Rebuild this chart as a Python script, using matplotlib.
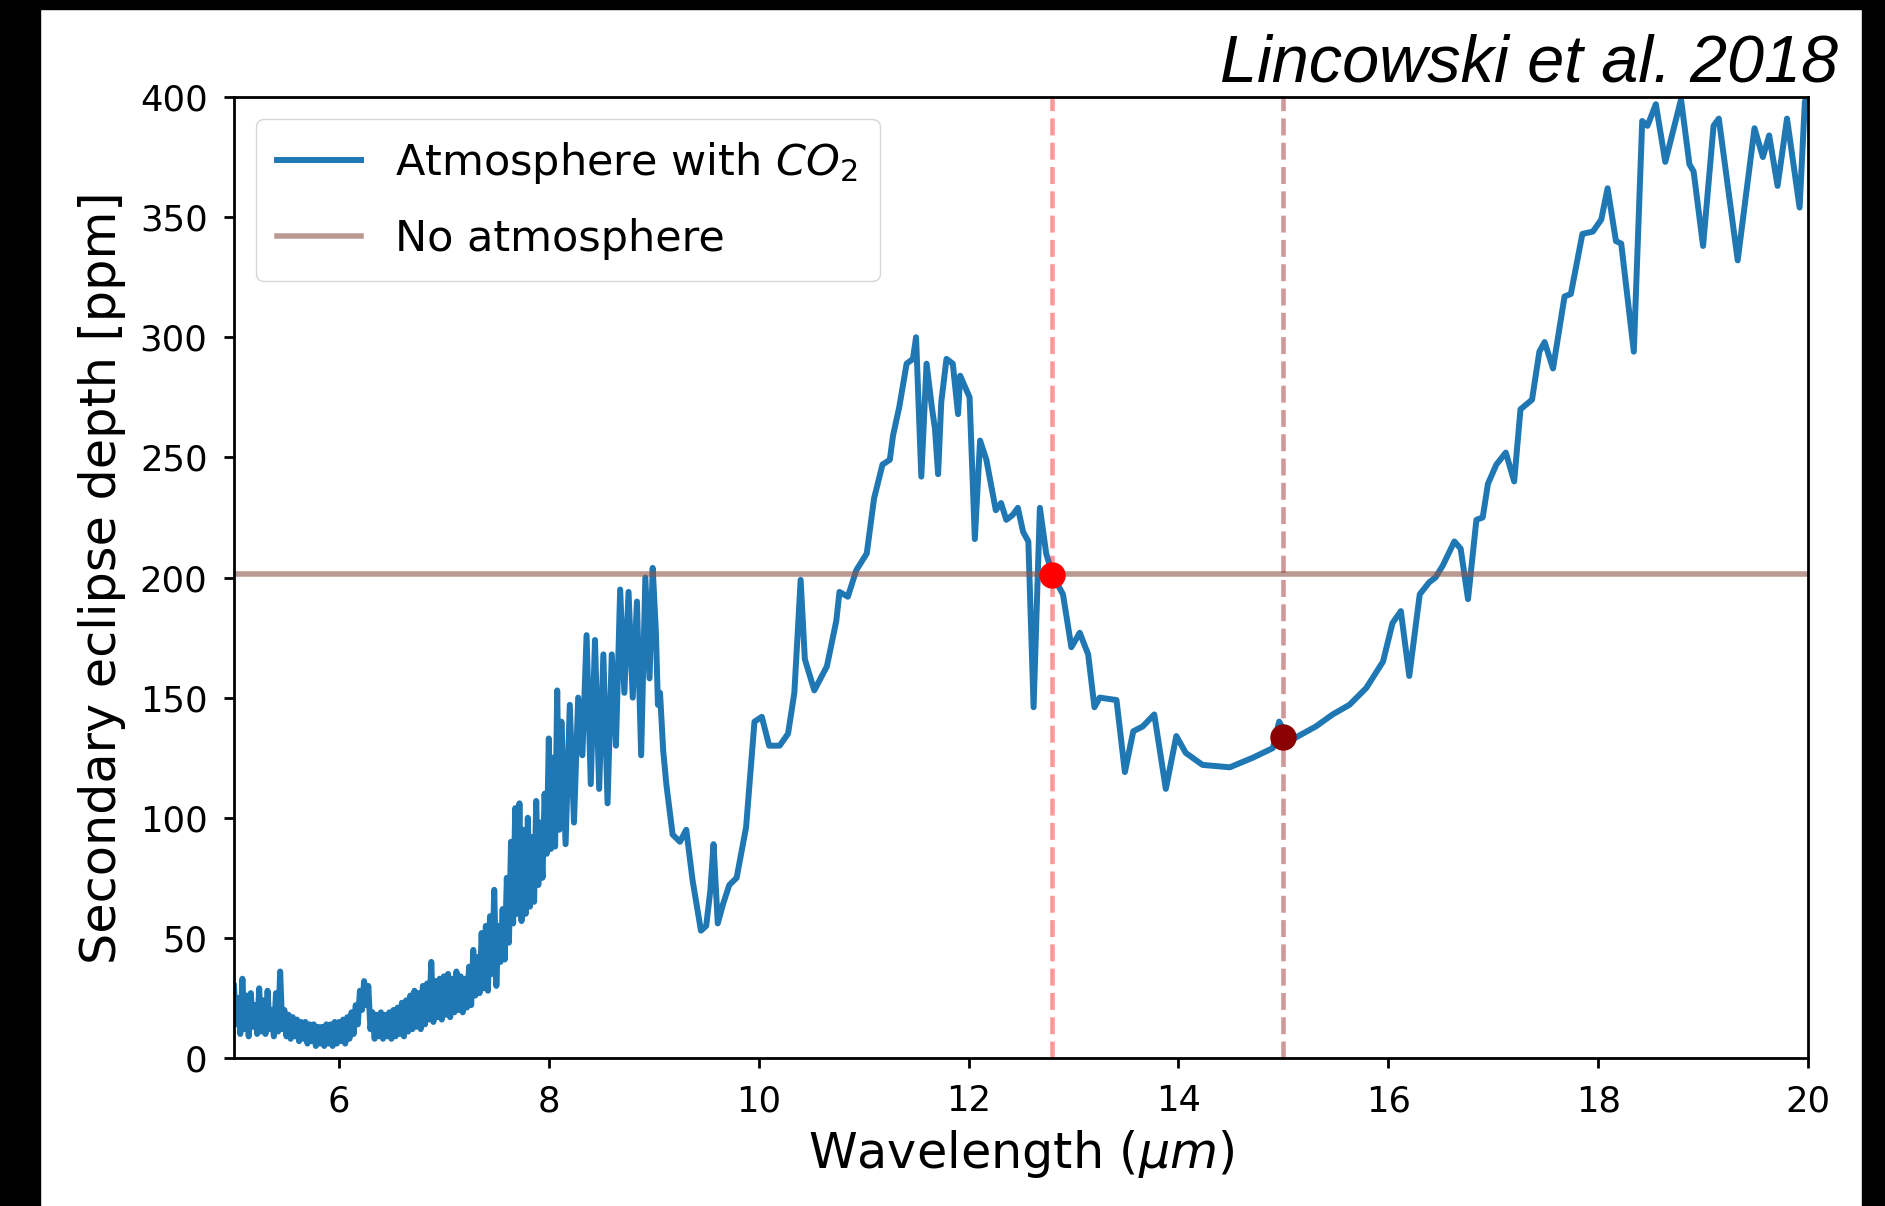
import matplotlib
matplotlib.use("Agg")
import matplotlib.pyplot as plt
from matplotlib.patches import Rectangle

# spectrum (wavelength in micron, depth in ppm)
# noisy short-wavelength part, sampled finely
wl_short = [
    5.00, 5.02, 5.04, 5.06, 5.08, 5.10, 5.12, 5.14, 5.16, 5.18,
    5.20, 5.22, 5.24, 5.26, 5.28, 5.30, 5.32, 5.34, 5.36, 5.38,
    5.40, 5.42, 5.44, 5.46, 5.48, 5.50, 5.52, 5.54, 5.56, 5.58,
    5.60, 5.62, 5.64, 5.66, 5.68, 5.70, 5.72, 5.74, 5.76, 5.78,
    5.80, 5.82, 5.84, 5.86, 5.88, 5.90, 5.92, 5.94, 5.96, 5.98,
    6.00, 6.02, 6.04, 6.06, 6.08, 6.10, 6.12, 6.14, 6.16, 6.18,
    6.20, 6.22, 6.24, 6.26, 6.28, 6.30, 6.32, 6.34, 6.36, 6.38,
    6.40, 6.42, 6.44, 6.46, 6.48, 6.50, 6.52, 6.54, 6.56, 6.58,
    6.60, 6.62, 6.64, 6.66, 6.68, 6.70, 6.72, 6.74, 6.76, 6.78,
    6.80, 6.82, 6.84, 6.86, 6.88, 6.90, 6.92, 6.94, 6.96, 6.98,
    7.00, 7.02, 7.04, 7.06, 7.08, 7.10, 7.12, 7.14, 7.16, 7.18,
    7.20, 7.22, 7.24, 7.26, 7.28, 7.30, 7.32, 7.34, 7.36, 7.38,
    7.40, 7.42, 7.44, 7.46, 7.48, 7.50, 7.52, 7.54, 7.56, 7.58,
    7.60, 7.62, 7.64, 7.66, 7.68, 7.70, 7.72, 7.74, 7.76, 7.78,
    7.80, 7.82, 7.84, 7.86, 7.88, 7.90, 7.92, 7.94, 7.96, 7.98,
    8.00, 8.02, 8.04, 8.06, 8.08, 8.10,
]
depth_short = [
    30, 14, 25, 10, 33, 12, 26, 9, 27, 13,
    22, 10, 29, 11, 24, 10, 28, 12, 20, 9,
    27, 11, 36, 12, 20, 9, 18, 8, 17, 9,
    16, 7, 15, 8, 15, 6, 14, 7, 14, 5,
    13, 6, 13, 5, 14, 6, 14, 5, 15, 6,
    15, 7, 16, 6, 17, 8, 19, 10, 22, 14,
    28, 20, 32, 22, 30, 12, 19, 8, 18, 9,
    19, 8, 18, 9, 19, 8, 20, 9, 21, 10,
    23, 9, 24, 11, 26, 12, 28, 13, 27, 12,
    30, 14, 31, 16, 40, 15, 32, 17, 33, 16,
    34, 18, 35, 17, 33, 19, 36, 20, 34, 19,
    33, 21, 38, 22, 45, 26, 42, 27, 52, 29,
    55, 28, 59, 35, 70, 30, 55, 40, 62, 41,
    75, 48, 90, 56, 104, 60, 106, 57, 95, 60,
    100, 63, 92, 65, 107, 72, 98, 75, 110, 85,
    133, 87, 125, 88, 153, 95,
]

# rest of the spectrum
wl_long = [
    8.12, 8.16, 8.20, 8.24, 8.28, 8.32, 8.36, 8.40, 8.44, 8.48,
    8.52, 8.56, 8.60, 8.64, 8.68, 8.72, 8.76, 8.80, 8.84, 8.88,
    8.92, 8.96, 8.99, 9.02, 9.04, 9.06, 9.09, 9.12, 9.18, 9.25,
    9.31, 9.37, 9.45, 9.50, 9.54, 9.57, 9.61, 9.66, 9.72, 9.79,
    9.88, 9.96, 10.03, 10.10, 10.20, 10.28, 10.34, 10.40, 10.44, 10.53,
    10.65, 10.74, 10.77, 10.85, 10.93, 11.03, 11.10, 11.18, 11.25, 11.28,
    11.34, 11.41, 11.47, 11.50, 11.55, 11.60, 11.65, 11.68, 11.71, 11.74,
    11.79, 11.85, 11.90, 11.92, 11.96, 12.01, 12.06, 12.11, 12.17, 12.26,
    12.31, 12.36, 12.42, 12.47, 12.52, 12.57, 12.62, 12.68, 12.74, 12.80,
    12.90, 12.98, 13.06, 13.14, 13.20, 13.25, 13.41, 13.49, 13.57, 13.66,
    13.77, 13.88, 13.98, 14.07, 14.23, 14.49, 14.71, 14.90, 14.96, 15.06,
    15.31, 15.47, 15.63, 15.79, 15.95, 16.04, 16.12, 16.20, 16.30, 16.39,
    16.45, 16.52, 16.63, 16.69, 16.76, 16.84, 16.90, 16.95, 17.03, 17.12,
    17.20, 17.26, 17.37, 17.44, 17.49, 17.57, 17.68, 17.74, 17.85, 17.95,
    18.03, 18.09, 18.17, 18.22, 18.34, 18.42, 18.47, 18.55, 18.64, 18.79,
    18.87, 18.91, 19.00, 19.10, 19.15, 19.33, 19.49, 19.57, 19.63, 19.71,
    19.80, 19.92, 19.97, 20.00,
]
depth_long = [
    140, 89, 147, 98, 150, 126, 176, 114, 174, 112,
    168, 106, 168, 130, 195, 152, 194, 150, 190, 126,
    200, 158, 204, 178, 147, 152, 128, 114, 93, 90,
    95, 74, 53, 55, 70, 89, 56, 64, 72, 75,
    96, 140, 142, 130, 130, 135, 152, 199, 166, 153,
    163, 182, 194, 192, 203, 210, 233, 247, 249, 259,
    271, 289, 291, 300, 242, 289, 271, 262, 243, 273,
    291, 289, 268, 284, 280, 275, 216, 257, 249, 228,
    231, 224, 226, 229, 219, 215, 146, 229, 210, 201,
    193, 171, 177, 168, 146, 150, 149, 119, 136, 138,
    143, 112, 134, 127, 122, 121, 125, 129, 140, 132,
    138, 143, 147, 154, 165, 181, 186, 159, 193, 198,
    200, 205, 215, 212, 191, 224, 225, 239, 247, 252,
    240, 270, 274, 294, 298, 287, 317, 318, 343, 344,
    349, 362, 340, 339, 294, 390, 388, 397, 373, 399,
    372, 369, 338, 388, 391, 332, 387, 375, 384, 363,
    391, 354, 398, 402,
]

no_atm_depth = 201.5
marker_wl = [12.8, 15.0]
marker_depth = [201, 133.5]

wavelength = wl_short + wl_long
depth_co2 = depth_short + depth_long

fig = plt.figure(figsize=(18.85, 12.06), dpi=100)
fig.patch.set_facecolor("white")

# black frame around the screenshot
fig.add_artist(Rectangle((0, 0), 40 / 1885, 1, transform=fig.transFigure, color="black", zorder=-5))
fig.add_artist(Rectangle((0, 1 - 9 / 1206), 1, 9 / 1206, transform=fig.transFigure, color="black", zorder=-5))
fig.add_artist(Rectangle((1862 / 1885, 0), 1, 1, transform=fig.transFigure, color="black", zorder=-5))

ax = fig.add_axes([234 / 1885, 148 / 1206, 1574 / 1885, 961 / 1206])

ax.plot(wavelength, depth_co2, color="tab:blue", lw=4.3, label="Atmosphere with $CO_2$")
ax.axhline(no_atm_depth, color="tab:brown", alpha=0.6, lw=4.0, label="No atmosphere")
ax.axvline(marker_wl[0], color="red", alpha=0.4, ls="--", lw=3.3)
ax.axvline(marker_wl[1], color="darkred", alpha=0.4, ls="--", lw=3.3)
ax.plot(marker_wl[0], marker_depth[0], "o", color="red", ms=18)
ax.plot(marker_wl[1], marker_depth[1], "o", color="darkred", ms=18)

ax.set_xlim(5, 20)
ax.set_ylim(0, 400)
ax.set_xticks([6, 8, 10, 12, 14, 16, 18, 20])
ax.set_yticks([0, 50, 100, 150, 200, 250, 300, 350, 400])
ax.tick_params(labelsize=25.5, length=7, width=2, pad=12)
for s in ax.spines.values():
    s.set_linewidth(2)

ax.set_xlabel("Wavelength ($\\mu m$)", fontsize=35.5, labelpad=7)
ax.set_ylabel("Secondary eclipse depth [ppm]", fontsize=35.5, labelpad=10)

ax.legend(loc="upper left", fontsize=31, handlelength=1.95, labelspacing=0.74, borderpad=0.5)

fig.text(1838 / 1885, 1 - 82 / 1206, "Lincowski et al. 2018", family="Liberation Sans",
         style="italic", fontsize=48, ha="right", va="baseline")

fig.savefig("out.png", dpi=100, facecolor=fig.get_facecolor())
